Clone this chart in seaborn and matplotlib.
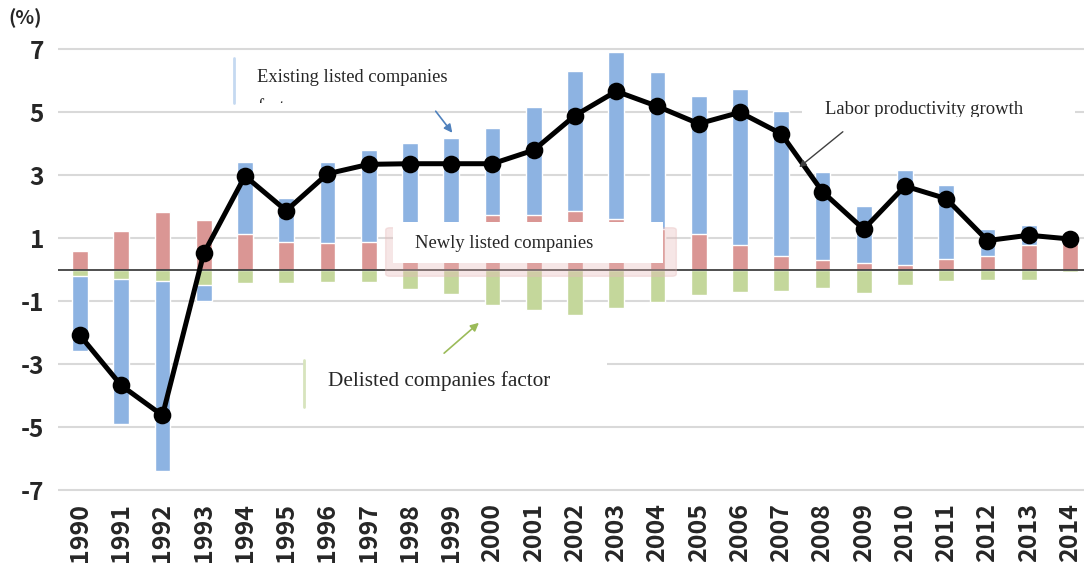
import numpy as np
import pandas as pd
import seaborn as sns
import matplotlib.pyplot as plt
from matplotlib.patches import Rectangle, FancyBboxPatch, FancyArrowPatch

years = [str(y) for y in range(1990, 2015)]
existing = [-2.37, -4.61, -6.05, -0.51, 2.30, 1.39, 2.57, 2.95, 3.07, 3.08, 2.77, 3.44, 4.45,
            5.28, 4.96, 4.38, 4.95, 4.60, 2.80, 1.80, 3.03, 2.35, 0.87, 0.64, 0.03]
newly = [0.58, 1.22, 1.82, 1.58, 1.12, 0.89, 0.85, 0.86, 0.95, 1.10, 1.73, 1.73, 1.85,
         1.62, 1.30, 1.12, 0.78, 0.42, 0.29, 0.21, 0.14, 0.33, 0.42, 0.78, 1.05]
delisted = [-0.22, -0.30, -0.35, -0.48, -0.43, -0.43, -0.39, -0.41, -0.62, -0.78, -1.11, -1.30, -1.43,
            -1.23, -1.03, -0.80, -0.70, -0.67, -0.59, -0.74, -0.49, -0.37, -0.33, -0.33, -0.08]
labor = [-2.09, -3.68, -4.63, 0.51, 2.97, 1.87, 3.04, 3.34, 3.36, 3.36, 3.36, 3.79, 4.89,
         5.66, 5.18, 4.63, 4.99, 4.31, 2.47, 1.28, 2.65, 2.25, 0.92, 1.09, 0.97]

blue, red, green = '#8db3e2', '#da9694', '#c4d79b'

df = pd.DataFrame({'year': years, 'existing': existing, 'newly': newly,
                   'delisted': delisted, 'labor': labor})
# existing factor sits on top of the newly bar when positive, below the delisted bar when negative
df['existing_top'] = np.where(df['existing'] >= 0, df['newly'] + df['existing'],
                              df['delisted'] + df['existing'])

sns.set_style('white')
plt.rcParams['font.family'] = ['Noto Sans CJK JP', 'DejaVu Sans']
plt.rcParams['axes.unicode_minus'] = False

W, H = 1084, 574
fig = plt.figure(figsize=(W / 100, H / 100), dpi=100)
# axes: left edge at px 58, right at fig edge, y from -7.1 (px 493) to 7.1 (px 46)
ax = fig.add_axes([58 / W, (H - 493.2) / H, 1 - 58 / W, (493.2 - 45.9) / H])

sns.barplot(data=df, x='year', y='existing_top', color=blue, width=0.38, saturation=1, ax=ax, zorder=2)
sns.barplot(data=df, x='year', y='newly', color=red, width=0.38, saturation=1, ax=ax, zorder=3)
sns.barplot(data=df, x='year', y='delisted', color=green, width=0.38, saturation=1, ax=ax, zorder=3)
ax.axhline(0, color='#404040', lw=1.3, zorder=4)
sns.pointplot(data=df, x='year', y='labor', color='black', markers='o', markersize=10,
              linewidth=3.6, ax=ax, zorder=6)

ax.set_xlim(-0.533, 24.34)
ax.set_ylim(-7.1, 7.1)
ax.set_yticks([-7, -5, -3, -1, 1, 3, 5, 7])
ax.grid(axis='y', color='#d9d9d9', lw=1.5)
ax.set_axisbelow(True)
for s in ax.spines.values():
    s.set_visible(False)
ax.set_xlabel('')
ax.set_ylabel('')
ax.tick_params(length=0)
ax.tick_params(axis='y', pad=10)
ax.tick_params(axis='x', pad=7)
for lab in ax.get_yticklabels():
    lab.set_fontsize(17.5)
    lab.set_fontweight('bold')
for lab in ax.get_xticklabels():
    lab.set_fontsize(18)
    lab.set_fontweight('bold')
    lab.set_rotation(90)

fig.text(8 / W, 1 - 18 / H, '(%)', fontsize=14, fontweight='bold', va='center', ha='left')


def fx(px):
    return px / W


def fy(py):
    return 1 - py / H


tf = fig.transFigure
serif = 'Liberation Serif'


def clipped(t, x0, y0, x1, y1):
    t.set_clip_on(True)
    t.set_clip_path(Rectangle((fx(x0), fy(y1)), fx(x1) - fx(x0), fy(y0) - fy(y1), transform=tf))


# existing listed companies label (second line cut off like the original)
fig.add_artist(plt.Line2D([fx(234), fx(234)], [fy(58), fy(103)], color='#c5d9f1', lw=2, transform=tf))
fig.text(fx(257), fy(78), 'Existing listed companies', family=serif, fontsize=13.3,
         va='center', ha='left')
t = fig.text(fx(257), fy(99), 'factor', family=serif, fontsize=13.3, va='top', ha='left')
clipped(t, 235, 58, 480, 103)
fig.add_artist(FancyArrowPatch((fx(434), fy(109)), (fx(454), fy(135)), transform=tf,
                               arrowstyle='-|>', mutation_scale=12, color='#4f81bd', lw=1.2))

# newly listed companies label
fig.add_artist(FancyBboxPatch((fx(390), fy(274)), fx(282), fy(230) - fy(274), transform=tf,
                              boxstyle='round,pad=0.004', fc='#e6b9b8', ec='#e6b9b8', alpha=0.35, zorder=5))
fig.add_artist(Rectangle((fx(393), fy(263)), fx(270), fy(222) - fy(263), transform=tf,
                         fc='white', ec='none', zorder=6))
fig.text(fx(415), fy(243), 'Newly listed companies', family=serif, fontsize=13.3,
         va='center', ha='left', zorder=7)

# labor productivity label
fig.add_artist(Rectangle((fx(802), fy(118)), fx(273), fy(98) - fy(118), transform=tf,
                         fc='white', ec='none', zorder=5))
t2 = fig.text(fx(825), fy(110), 'Labor productivity growth', family=serif, fontsize=13.4,
              va='center', ha='left', zorder=7)
clipped(t2, 802, 95, 1075, 117)
fig.add_artist(FancyArrowPatch((fx(845), fy(130)), (fx(797), fy(169)), transform=tf,
                               arrowstyle='-|>', mutation_scale=10, color='#404040', lw=1.0, zorder=7))

# delisted companies label
fig.add_artist(Rectangle((fx(304), fy(410)), fx(303), fy(357) - fy(410), transform=tf,
                         fc='white', ec='none', zorder=5))
fig.add_artist(plt.Line2D([fx(304), fx(304)], [fy(360), fy(407)], color='#d7e4bd', lw=2, transform=tf, zorder=6))
fig.text(fx(328), fy(381), 'Delisted companies factor', family=serif, fontsize=15.3,
         va='center', ha='left', zorder=7)
fig.add_artist(FancyArrowPatch((fx(442), fy(355)), (fx(481), fy(321)), transform=tf,
                               arrowstyle='-|>', mutation_scale=12, color='#9bbb59', lw=1.2, zorder=7))

fig.savefig('out.png', dpi=100)
